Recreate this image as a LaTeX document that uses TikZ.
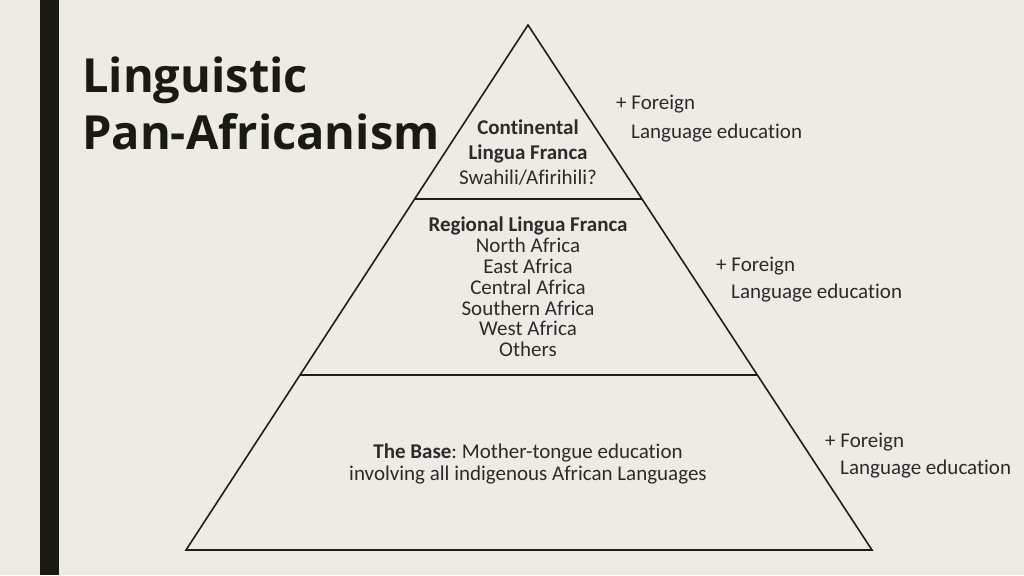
\documentclass[tikz,border=0pt]{standalone}
\usepackage{fontspec}
\setmainfont{Carlito}[Ligatures={NoCommon}]
\newfontfamily\titlefont{Open Sans}
\definecolor{bgc}{HTML}{EEEBE4}
\definecolor{barc}{HTML}{1A1A14}
\definecolor{txtc}{HTML}{2B2B2B}
\definecolor{linec}{HTML}{1E1E1E}
\tikzset{
  tier/.style={align=center, text=txtc, inner sep=0pt},
  extra/.style={text=txtc, font=\fontsize{21}{25}\selectfont, inner sep=0pt, anchor=base west},
  edge/.style={draw=linec, line width=1.6pt, line join=miter},
}
\begin{document}
\frenchspacing
\begin{tikzpicture}[x=1pt,y=-1pt]
\fill[bgc] (0,0) rectangle (1024,575);
\useasboundingbox (0,0) rectangle (1024,575);
\fill[barc] (40,0) rectangle (59,575);
% title
\node[anchor=base west, inner sep=0pt, text=barc, font=\titlefont\bfseries\fontsize{47}{56}\selectfont] (t1) at (82,93) {Linguistic};
\node[anchor=base west, inner sep=0pt, text=barc, font=\titlefont\bfseries\fontsize{47}{56}\selectfont] (t2) at (82,149) {Pan-Africanism};
% pyramid
\coordinate (apex) at (528,25);
\coordinate (bl) at (186,550);
\coordinate (br) at (872,550);
\coordinate (l1) at (415,199);
\coordinate (r1) at (642,199);
\coordinate (l2) at (300,375);
\coordinate (r2) at (757,375);
\draw[edge] (apex) -- (br) -- (bl) -- cycle;
\draw[edge] (l1) -- (r1);
\draw[edge] (l2) -- (r2);
% tier texts
\node[tier, font=\fontsize{21}{25}\selectfont] (top) at (528,153) {\textbf{Continental}\\\textbf{Lingua Franca}\\Swahili/Afirihili?};
\node[tier, font=\fontsize{21}{20.8}\selectfont] (mid) at (528,287) {\textbf{Regional Lingua Franca}\\North Africa\\East Africa\\Central Africa\\Southern Africa\\West Africa\\Others};
\node[tier, font=\fontsize{21}{22}\selectfont] (base) at (528,464) {\textbf{The Base}: Mother-tongue education\\involving all indigenous African Languages};
% foreign labels
\node[extra] (f1a) at (616,110) {+ Foreign};
\node[extra] (f1b) at (631,138) {Language education};
\node[extra] (f2a) at (716,271) {+ Foreign};
\node[extra] (f2b) at (731,298) {Language education};
\node[extra] (f3a) at (825,447) {+ Foreign};
\node[extra] (f3b) at (840,474) {Language education};
\end{tikzpicture}
\end{document}
